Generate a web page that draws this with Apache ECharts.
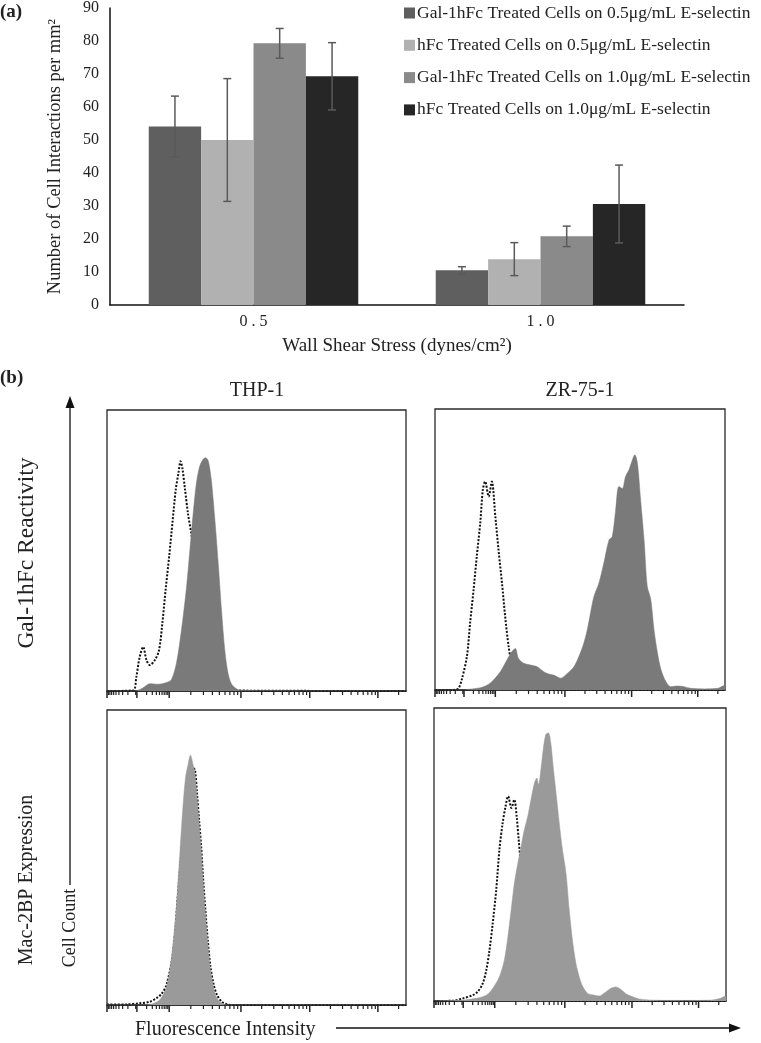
<!DOCTYPE html>
<html>
<head>
<meta charset="utf-8">
<script src="https://cdn.jsdelivr.net/npm/echarts@6/dist/echarts.min.js"></script>
<style>
  html, body { margin: 0; padding: 0; background: #fff; }
  #main { width: 761px; height: 1043px; }
</style>
</head>
<body>
<div id="main"></div>
<script>
// ---- (a) bar chart data ----
var shearCats = ['0 . 5', '1 . 0'];
var legendNames = [
    'Gal-1hFc Treated Cells on 0.5μg/mL E-selectin',
    'hFc Treated Cells on 0.5μg/mL E-selectin',
    'Gal-1hFc Treated Cells on 1.0μg/mL E-selectin',
    'hFc Treated Cells on 1.0μg/mL E-selectin'
];
var galLow = [54.1, 10.5];
var hfcLow = [50.0, 13.9];
var galHigh = [79.3, 20.8];
var hfcHigh = [69.3, 30.6];
var galLowErr = [9.2, 1.1];
var hfcLowErr = [18.6, 5.0];
var galHighErr = [4.5, 3.1];
var hfcHighErr = [10.2, 11.8];
var barColors = ['#5f5f5f', '#b1b1b1', '#8a8a8a', '#262626'];

// ---- (b) flow histograms: [channel (0-1000), % of max] ----
var thpGalFill = [[0,0],[93,0],[120,1.1],[143,2.6],[171,2.4],[199,3],[215,4],[232,9.8],[249,21.7],[266,37],[277,50],[288,63],[299,74],[310,80],[321,82.4],[330,83],[339,81.8],[349,75],[360,62],[372,45.5],[383,28.8],[394,14.5],[405,6.2],[416,2.6],[433,0.8],[450,0.2],[1000,0]];
var thpGalCtrl = [[0,0],[87,0.2],[98,5],[109,12],[121,15.7],[132,11],[143,9.2],[160,11],[174,14.5],[185,24],[196,36],[208,48],[219,60],[230,71.7],[239,77.6],[246,81.8],[252,79.4],[261,71.7],[271,63],[282,56],[290,50],[305,36],[321,19],[338,7.4],[360,1.4],[388,0.2],[1000,0]];
var zrGalFill = [[0,0],[98,0],[121,0.3],[156,0.8],[190,2.4],[225,6.5],[248,10.7],[265,13.7],[277,14.8],[288,11.2],[306,9.5],[329,8.9],[352,8.3],[375,6.5],[392,5.7],[409,5.3],[433,4.2],[456,5.9],[479,8.3],[496,11.9],[513,16.6],[525,21.4],[536,27.3],[548,33.3],[565,38],[582,45.1],[600,53.4],[611,54.6],[623,64.1],[634,72.4],[646,71.7],[657,76],[669,78.4],[681,82],[689,83.7],[698,80.8],[709,67.7],[721,53.4],[732,36.8],[744,32.3],[755,21.6],[767,13.3],[779,7.4],[796,3],[813,1.2],[836,1.4],[859,1.2],[882,0.6],[928,0.4],[975,0.6],[992,1.4],[1000,1.8]];
var zrGalCtrl = [[0,0],[63,0],[81,0.6],[92,3.6],[110,11.9],[121,23.8],[133,35.6],[144,47.5],[156,59.4],[165,71.3],[173,74.2],[185,68.9],[196,74.2],[208,61.8],[219,49.9],[231,38],[242,26.1],[254,15.4],[265,9],[283,3.5],[300,1],[323,0.2],[1000,0]];
var thpMacFill = [[0,0],[109,0],[143,0.2],[176,1.7],[199,6.2],[210,11.9],[221,20.9],[232,33.3],[243,50.3],[254,67.2],[263,77.4],[271,81.4],[279,84.7],[288,81.4],[294,78.5],[301,70.6],[308,61.6],[315,52.5],[321,42.4],[329,31.1],[337,20.9],[346,11.9],[357,5.6],[368,2.3],[384,0.6],[402,0],[1000,0]];
var thpMacCtrl = [[0,0.2],[65,0.2],[109,0.6],[143,1.1],[165,2.3],[182,3.7],[199,6.8],[221,18],[243,45],[266,70],[286,80.5],[294,79.7],[301,71.8],[308,62.7],[315,53.7],[321,43.5],[329,32.2],[337,22],[346,13],[357,6.8],[368,3.4],[384,1.1],[402,0.2],[422,0],[1000,0]];
var zrMacFill = [[0,0],[65,0.2],[99,0.3],[144,0.9],[179,2],[201,4.3],[224,8.3],[241,14],[253,22],[264,31],[275,40],[287,47],[298,52.6],[309,58.3],[321,63],[332,68.7],[344,74.4],[352,76.1],[358,73.8],[366,78.9],[374,85.8],[383,91],[392,91.5],[400,88.1],[408,80.1],[418,71],[429,60.7],[440,51.6],[452,43.7],[463,31.2],[474,20.9],[486,12.9],[497,8.4],[509,5],[526,2.6],[543,2.1],[565,1.7],[588,3.1],[605,4.3],[622,4.8],[639,4],[656,2.6],[679,1.5],[702,0.7],[747,0.3],[861,0.2],[952,0.3],[981,0.9],[992,1.5],[1000,1.7]];
var zrMacCtrl = [[0,0],[65,0.1],[99,0.9],[133,2],[150,3.2],[167,6],[179,10.5],[190,17.3],[201,26.4],[213,37.8],[224,51.6],[235,60.7],[245,66.4],[254,69.9],[265,65.9],[275,68.7],[283,63.1],[290,55.1],[296,48.2],[309,32.2],[327,15.1],[344,6],[366,1.5],[395,0.3],[418,0],[1000,0]];

// logicle-like tick layout (channel units)
var decadeTicks = [0, 100, 208, 448, 678, 906];
var minorTicks = [96];
for (var d = 1; d < decadeTicks.length; d++) {
    var a = decadeTicks[d - 1], b = decadeTicks[d];
    var span = d === 1 ? 100 : (d < 4 ? b - a : 230);
    for (var k = 2; k <= 9; k++) {
        if (d === 1) minorTicks.push(b - span * Math.log10(k));
        else minorTicks.push(a + span * Math.log10(k));
    }
}
minorTicks.push(906 + 230 * Math.log10(2));

var serif = 'Liberation Serif';
var myChart = echarts.init(document.getElementById('main'));

var panels = [
    { left: 107, top: 410, width: 299, height: 281, fill: thpGalFill, ctrl: thpGalCtrl, color: '#7a7a7a' },
    { left: 435, top: 409, width: 290, height: 281, fill: zrGalFill, ctrl: zrGalCtrl, color: '#7a7a7a' },
    { left: 107, top: 710, width: 299, height: 295, fill: thpMacFill, ctrl: thpMacCtrl, color: '#9a9a9a' },
    { left: 434, top: 708, width: 292, height: 293, fill: zrMacFill, ctrl: zrMacCtrl, color: '#9a9a9a' }
];

// error bars drawn over the grouped bars
function errRender(k) {
    return function (params, api) {
        var cat = api.value(0);
        var mid = api.coord([cat, api.value(1)]);
        var top = api.coord([cat, api.value(1) + api.value(2)]);
        var bot = api.coord([cat, api.value(1) - api.value(2)]);
        var catW = api.size([1, 0])[0];
        var barW = catW * (1 - 0.27) / 4;
        var x = mid[0] + (k - 1.5) * barW;
        var cap = 4;
        var st = { stroke: '#5a5a5a', lineWidth: 1.5 };
        return {
            type: 'group',
            children: [
                { type: 'line', shape: { x1: x, y1: top[1], x2: x, y2: bot[1] }, style: st },
                { type: 'line', shape: { x1: x - cap, y1: top[1], x2: x + cap, y2: top[1] }, style: st },
                { type: 'line', shape: { x1: x - cap, y1: bot[1], x2: x + cap, y2: bot[1] }, style: st }
            ]
        };
    };
}

// tick mark under the baseline: value(0) = channel, value(1) = length
function tickRender(params, api) {
    var pt = api.coord([api.value(0), 0]);
    var len = api.value(1);
    return {
        type: 'line',
        shape: { x1: pt[0], y1: pt[1], x2: pt[0], y2: pt[1] + len },
        style: { stroke: '#222', lineWidth: len > 5 ? 1.5 : 1.2 }
    };
}

var barValues = [galLow, hfcLow, galHigh, hfcHigh];
var barErrs = [galLowErr, hfcLowErr, galHighErr, hfcHighErr];

var grids = [{ left: 110, right: 77, top: 7, bottom: 738 }];
var xAxes = [{
    type: 'category', gridIndex: 0, data: shearCats, position: 'bottom',
    axisLine: { lineStyle: { color: '#111', width: 1.5 } },
    axisTick: { show: false },
    axisLabel: { fontFamily: serif, fontSize: 16, color: '#222', margin: 9 },
    name: 'Wall Shear Stress (dynes/cm²)', nameLocation: 'middle', nameGap: 32,
    nameTextStyle: { fontFamily: serif, fontSize: 19, color: '#222' }
}];
var yAxes = [{
    type: 'value', gridIndex: 0, min: 0, max: 90, interval: 10,
    axisLine: { show: true, lineStyle: { color: '#111', width: 1.5 } },
    axisTick: { show: false },
    splitLine: { show: false },
    axisLabel: { fontFamily: serif, fontSize: 16, color: '#222', margin: 11 },
    name: 'Number of Cell Interactions per mm²', nameLocation: 'middle', nameGap: 45,
    nameTextStyle: { fontFamily: serif, fontSize: 18.5, color: '#222' }
}];
var series = [];
for (var i = 0; i < 4; i++) {
    series.push({
        name: legendNames[i], type: 'bar', xAxisIndex: 0, yAxisIndex: 0,
        data: barValues[i], barGap: '0%', barCategoryGap: '27%',
        itemStyle: { color: barColors[i] }
    });
}
for (var j = 0; j < 4; j++) {
    var errData = [];
    for (var c = 0; c < shearCats.length; c++) errData.push([c, barValues[j][c], barErrs[j][c]]);
    series.push({
        type: 'custom', xAxisIndex: 0, yAxisIndex: 0, z: 5,
        renderItem: errRender(j), data: errData
    });
}

var tickData = decadeTicks.map(function (v) { return [v, 7]; })
    .concat(minorTicks.map(function (v) { return [v, 4]; }));

panels.forEach(function (p, n) {
    var gi = n + 1;
    grids.push({
        left: p.left, top: p.top, width: p.width, height: p.height,
        show: true, borderColor: '#2a2a2a', borderWidth: 1.3, backgroundColor: '#fff'
    });
    xAxes.push({
        type: 'value', gridIndex: gi, min: 0, max: 1000,
        axisLine: { onZero: false, lineStyle: { color: '#222', width: 1.5 } },
        axisTick: { show: false },
        axisLabel: { show: false }, splitLine: { show: false }
    });
    yAxes.push({ type: 'value', gridIndex: gi, min: 0, max: 100, show: false });
    series.push({
        type: 'line', xAxisIndex: gi, yAxisIndex: gi, data: p.ctrl,
        symbol: 'none', smooth: 0.3, z: 3,
        lineStyle: { color: '#111', width: 2, type: [2, 1.6] }
    });
    series.push({
        type: 'line', xAxisIndex: gi, yAxisIndex: gi, data: p.fill,
        symbol: 'none', smooth: 0.3, z: 4,
        lineStyle: { color: p.color, width: 0.5 },
        areaStyle: { color: p.color, opacity: 1 }
    });
    series.push({
        type: 'custom', xAxisIndex: gi, yAxisIndex: gi, z: 6, clip: false,
        renderItem: tickRender, data: tickData
    });
});

var txt = function (x, y, s, opts) {
    opts = opts || {};
    return {
        type: 'text', x: x, y: y, rotation: opts.rot || 0, z: 10,
        style: {
            text: s, fill: '#222',
            font: (opts.bold ? 'bold ' : '') + (opts.size || 17) + 'px "' + serif + '"',
            textAlign: opts.align || 'left', textVerticalAlign: 'middle'
        }
    };
};

var option = {
    backgroundColor: '#fff',
    animation: false,
    legend: {
        data: legendNames, orient: 'vertical', left: 399, top: -1,
        itemWidth: 11, itemHeight: 11, itemGap: 14.3, icon: 'rect',
        textStyle: { fontFamily: serif, fontSize: 17.5, color: '#222', padding: [0, 0, 0, -3] }
    },
    grid: grids,
    xAxis: xAxes,
    yAxis: yAxes,
    series: series,
    graphic: [
        txt(0, 12, '(a)', { bold: true, size: 19 }),
        txt(0, 378, '(b)', { bold: true, size: 19 }),
        txt(257, 391, 'THP-1', { align: 'center', size: 20 }),
        txt(580, 391, 'ZR-75-1', { align: 'center', size: 20 }),
        txt(27, 553, 'Gal-1hFc Reactivity', { align: 'center', rot: Math.PI / 2, size: 23.5 }),
        txt(27, 880, 'Mac-2BP Expression', { align: 'center', rot: Math.PI / 2, size: 20 }),
        txt(70, 928, 'Cell Count', { align: 'center', rot: Math.PI / 2, size: 18 }),
        txt(135, 1030, 'Fluorescence Intensity', { size: 20 }),
        { type: 'line', shape: { x1: 70, y1: 885, x2: 70, y2: 405 }, style: { stroke: '#111', lineWidth: 1.3 } },
        { type: 'polygon', shape: { points: [[70, 396], [65.5, 408], [74.5, 408]] }, style: { fill: '#111' } },
        { type: 'line', shape: { x1: 336, y1: 1028, x2: 730, y2: 1028 }, style: { stroke: '#111', lineWidth: 1.3 } },
        { type: 'polygon', shape: { points: [[741, 1028], [729, 1023.5], [729, 1032.5]] }, style: { fill: '#111' } }
    ]
};
myChart.setOption(option);
</script>
</body>
</html>
